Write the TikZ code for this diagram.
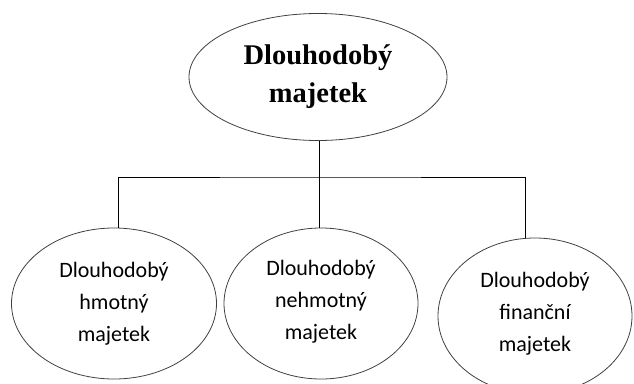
\documentclass[tikz,border=0pt]{standalone}
\usepackage{fontspec}
\setmainfont{Liberation Serif}
\newfontfamily\carl{Carlito}
\usetikzlibrary{shapes.geometric}
\begin{document}
\begin{tikzpicture}[x=1pt,y=-1pt,
  oval/.style={draw=black!75, line width=0.8pt, ellipse, inner sep=0pt},
  conn/.style={draw=black, line width=0.7pt}]
\useasboundingbox (0,0) rectangle (634,383);
\node (top) [oval, minimum width=258pt, minimum height=127pt] at (318,77) {};
\node at (318,77) [align=center, font=\fontsize{28.5}{38}\selectfont\bfseries] {Dlouhodobý\\majetek};
\node (a) [oval, minimum width=205pt, minimum height=151pt] at (114,303.5) {};
\node (b) [oval, minimum width=194pt, minimum height=151pt] at (321,303.5) {};
\node (c) [oval, minimum width=194pt, minimum height=156pt] at (535,316) {};
\node at (114,304) [align=center, font=\carl\fontsize{22}{32}\selectfont] {Dlouhodobý\\hmotný\\majetek};
\node at (321,302) [align=center, font=\carl\fontsize{22}{32}\selectfont] {Dlouhodobý\\nehmotný\\majetek};
\node at (535,314) [align=center, font=\carl\fontsize{22}{32}\selectfont] {Dlouhodobý\\finanční\\majetek};
\coordinate (bus) at (319,177);
\draw[conn] (top.south -| bus) -- (bus);
\draw[conn] (a.north -| 118,0) |- (bus) -| (c.north -| 525,0);
\draw[conn] (bus) -- (b.north -| bus);
\end{tikzpicture}
\end{document}
